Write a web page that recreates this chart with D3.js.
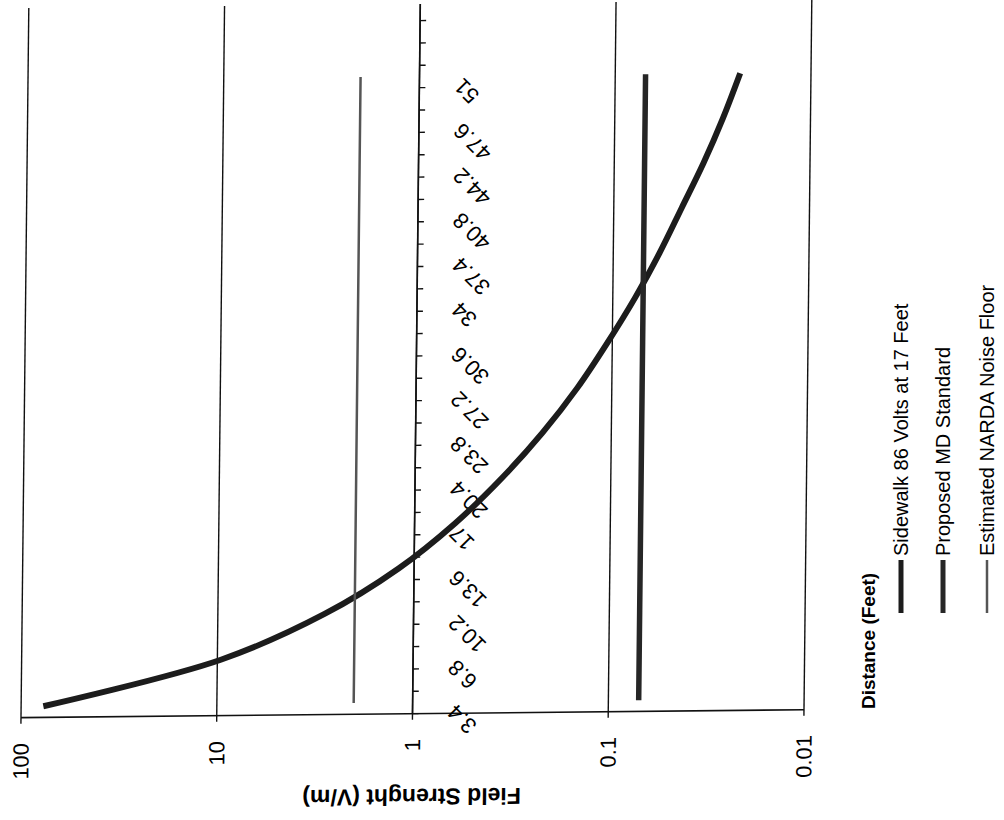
<!DOCTYPE html>
<html>
<head>
<meta charset="utf-8">
<script src="https://cdn.jsdelivr.net/npm/d3@7"></script>
<style>
  html, body { margin: 0; padding: 0; background: #fff; }
  svg { display: block; font-family: "Liberation Sans", Arial, sans-serif; }
</style>
</head>
<body>
<div id="chart"></div>
<script>
// distance along the category axis (feet)
const distances = [3.4, 6.8, 10.2, 13.6, 17, 20.4, 23.8, 27.2, 30.6, 34, 37.4, 40.8, 44.2, 47.6, 51];
const distanceLabels = ["3.4", "6.8", "10.2", "13.6", "17", "20.4", "23.8", "27.2", "30.6", "34", "37.4", "40.8", "44.2", "47.6", "51"];

// field strength (V/m)
const sidewalk = [77, 9.6, 2.85, 1.2, 0.62, 0.36, 0.225, 0.15, 0.106, 0.077, 0.058, 0.045, 0.035, 0.028, 0.023];
const mdStandard = [0.07, 0.07, 0.07, 0.07, 0.07, 0.07, 0.07, 0.07, 0.07, 0.07, 0.07, 0.07, 0.07, 0.07, 0.07];
const nardaFloor = [2, 2, 2, 2, 2, 2, 2, 2, 2, 2, 2, 2, 2, 2, 2];

const fieldTicks = [100, 10, 1, 0.1, 0.01];
const fieldTickLabels = ["100", "10", "1", "0.1", "0.01"];
const seriesNames = ["Sidewalk 86 Volts at 17 Feet", "Proposed MD Standard", "Estimated NARDA Noise Floor"];

const svg = d3
  .select("#chart")
  .append("svg")
  .attr("width", 1004)
  .attr("height", 820);

svg.append("rect").attr("width", 1004).attr("height", 820).attr("fill", "#fff");

// the page is turned on its side, value axis runs left to right
const x = d3.scaleLog().domain([100, 0.01]).range([21, 804]);
const y = d3.scaleLinear().domain([3.4, 51]).range([702.5, 76.5]);
const yBottom = y(2.55);
const yTop = 4;

// slight skew of the scanned page
const plot = svg.append("g").attr("transform", "matrix(1,-0.0102,-0.011,1,7.84,4.2)");

// gridlines
plot
  .selectAll(".grid")
  .data(fieldTicks)
  .join("line")
  .attr("x1", (d) => x(d))
  .attr("x2", (d) => x(d))
  .attr("y1", yTop)
  .attr("y2", yBottom + 6)
  .attr("stroke", "#111")
  .attr("stroke-width", 1.4);

// value axis
plot
  .append("line")
  .attr("x1", x(100))
  .attr("x2", x(0.01))
  .attr("y1", yBottom)
  .attr("y2", yBottom)
  .attr("stroke", "#111")
  .attr("stroke-width", 1.6);

plot
  .selectAll(".flab")
  .data(fieldTickLabels)
  .join("text")
  .attr("transform", (d, i) => `translate(${x(fieldTicks[i]) + 8},739) rotate(-90)`)
  .attr("text-anchor", "end")
  .style("font-size", "22px")
  .attr("fill", "#000")
  .text((d) => d);

plot
  .append("text")
  .attr("transform", `translate(${(x(100) + x(0.01)) / 2},789) rotate(180)`)
  .attr("text-anchor", "middle")
  .style("font-size", "23px")
  .style("font-weight", "bold")
  .attr("fill", "#000")
  .text("Field Strenght (V/m)");

// category axis crosses at 1
const x1 = x(1);
plot
  .append("line")
  .attr("x1", x1)
  .attr("x2", x1)
  .attr("y1", yTop)
  .attr("y2", yBottom)
  .attr("stroke", "#111")
  .attr("stroke-width", 1.6);

const tickDist = d3.range(2.55, 57, 1.7).filter((d) => y(d) >= yTop);
plot
  .selectAll(".dtick")
  .data(tickDist)
  .join("line")
  .attr("x1", x1)
  .attr("x2", x1 + 6)
  .attr("y1", (d) => y(d))
  .attr("y2", (d) => y(d))
  .attr("stroke", "#111")
  .attr("stroke-width", 1.4);

plot
  .selectAll(".dlab")
  .data(distanceLabels)
  .join("text")
  .attr("transform", (d, i) => `translate(${x1 + 44},${y(distances[i]) + 1}) rotate(-135)`)
  .attr("text-anchor", "end")
  .style("font-size", "22px")
  .attr("fill", "#000")
  .text((d) => d);

// series
const styles = [
  { color: "#1c1c1c", width: 6 },
  { color: "#262626", width: 5.5 },
  { color: "#555", width: 2.5 },
];
const seriesData = [sidewalk, mdStandard, nardaFloor];

const line = d3
  .line()
  .x((d) => x(d[1]))
  .y((d) => y(d[0]))
  .curve(d3.curveCatmullRom);

plot
  .selectAll(".series")
  .data(seriesData)
  .join("path")
  .attr("fill", "none")
  .attr("stroke", (d, i) => styles[i].color)
  .attr("stroke-width", (d, i) => styles[i].width)
  .attr("d", (d) => line(d3.zip(distances, d)));

// axis title and legend (not skewed)
svg
  .append("text")
  .attr("transform", "translate(875,641) rotate(-90)")
  .attr("text-anchor", "middle")
  .style("font-size", "19px")
  .style("font-weight", "bold")
  .attr("fill", "#000")
  .text("Distance (Feet)");

const legendX = [901, 943, 987];
const legend = svg
  .selectAll(".legend")
  .data(seriesNames)
  .join("g")
  .attr("transform", (d, i) => `translate(${legendX[i]},0)`);

legend
  .append("line")
  .attr("x1", 0)
  .attr("x2", 0)
  .attr("y1", 560)
  .attr("y2", 613)
  .attr("stroke", (d, i) => styles[i].color)
  .attr("stroke-width", (d, i) => Math.min(styles[i].width, 5));

legend
  .append("text")
  .attr("transform", "translate(7,556) rotate(-90)")
  .style("font-size", "20px")
  .attr("fill", "#000")
  .text((d) => d);
</script>
</body>
</html>
